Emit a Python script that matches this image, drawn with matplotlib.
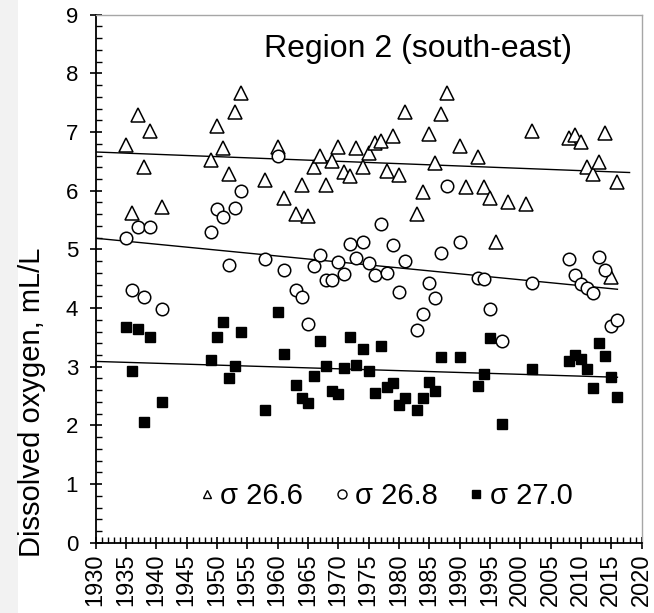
import matplotlib
matplotlib.use("Agg")
import matplotlib.pyplot as plt
from matplotlib.lines import Line2D
from matplotlib.ticker import MultipleLocator
import matplotlib.patches as mpatches

plt.rcParams['font.family'] = ['Liberation Sans', 'DejaVu Sans']

# sigma 26.6 (open triangles)
years_266 = [1935, 1936, 1937, 1938, 1939, 1941, 1949, 1950, 1951, 1952, 1953, 1954,
             1958, 1960, 1961, 1963, 1964, 1965, 1966, 1967, 1968, 1969, 1970, 1971,
             1972, 1973, 1974, 1975, 1976, 1977, 1978, 1979, 1980, 1981, 1983, 1984,
             1985, 1986, 1987, 1988, 1990, 1991, 1993, 1994, 1995, 1996, 1998, 2001,
             2002, 2008, 2009, 2010, 2011, 2012, 2013, 2014, 2015, 2016]
do_266 = [6.78, 5.62, 7.29, 6.40, 7.02, 5.73, 6.53, 7.10, 6.72, 6.28, 7.35, 7.67,
          6.18, 6.74, 5.87, 5.60, 6.10, 5.57, 6.40, 6.59, 6.09, 6.51, 6.74, 6.32,
          6.25, 6.73, 6.41, 6.64, 6.81, 6.85, 6.34, 6.94, 6.27, 7.35, 5.60, 5.97,
          6.97, 6.48, 7.30, 7.67, 6.77, 6.06, 6.58, 6.06, 5.87, 5.12, 5.80, 5.78,
          7.02, 6.89, 6.95, 6.83, 6.41, 6.28, 6.49, 6.98, 4.53, 6.14]

# sigma 26.8 (open circles)
years_268 = [1935, 1936, 1937, 1938, 1939, 1941, 1949, 1950, 1951, 1952, 1953, 1954,
             1958, 1960, 1961, 1963, 1964, 1965, 1966, 1967, 1968, 1969, 1970, 1971,
             1972, 1973, 1974, 1975, 1976, 1977, 1978, 1979, 1980, 1981, 1983, 1984,
             1985, 1986, 1987, 1988, 1990, 1993, 1994, 1995, 1997, 2002, 2008, 2009,
             2010, 2011, 2012, 2013, 2014, 2015, 2016]
do_268 = [5.20, 4.31, 5.38, 4.18, 5.38, 3.99, 5.29, 5.68, 5.55, 4.73, 5.70, 5.99,
          4.83, 6.60, 4.65, 4.31, 4.19, 3.72, 4.72, 4.90, 4.48, 4.48, 4.79, 4.58,
          5.09, 4.86, 5.12, 4.77, 4.56, 5.44, 4.60, 5.07, 4.28, 4.80, 3.63, 3.90,
          4.42, 4.17, 4.94, 6.08, 5.13, 4.52, 4.49, 3.98, 3.44, 4.43, 4.84, 4.56,
          4.41, 4.34, 4.26, 4.87, 4.65, 3.70, 3.80]

# sigma 27.0 (filled squares)
years_270 = [1935, 1936, 1937, 1938, 1939, 1941, 1949, 1950, 1951, 1952, 1953, 1954,
             1958, 1960, 1961, 1963, 1964, 1965, 1966, 1967, 1968, 1969, 1970, 1971,
             1972, 1973, 1974, 1975, 1976, 1977, 1978, 1979, 1980, 1981, 1983, 1984,
             1985, 1986, 1987, 1990, 1993, 1994, 1995, 1997, 2002, 2008, 2009, 2010,
             2011, 2012, 2013, 2014, 2015, 2016]
do_270 = [3.68, 2.93, 3.65, 2.06, 3.51, 2.39, 3.11, 3.51, 3.77, 2.81, 3.01, 3.59,
          2.26, 3.94, 3.22, 2.68, 2.47, 2.38, 2.84, 3.44, 3.01, 2.59, 2.53, 2.97,
          3.51, 3.03, 3.30, 2.93, 2.55, 3.35, 2.66, 2.73, 2.34, 2.46, 2.26, 2.46,
          2.74, 2.58, 3.17, 3.16, 2.67, 2.87, 3.49, 2.03, 2.96, 3.09, 3.20, 3.13,
          2.96, 2.63, 3.41, 3.18, 2.82, 2.48]

# linear trend lines (end points)
trend_years_266 = [1930, 2018]
trend_266 = [6.66, 6.31]
trend_years = [1930, 2016]
trend_268 = [5.19, 4.32]
trend_270 = [3.09, 2.82]

legend_labels = ["σ 26.6", "σ 26.8", "σ 27.0"]

fig = plt.figure(figsize=(6.54, 6.13), dpi=100, facecolor="#f2f2f2")
fig.patches.append(mpatches.Rectangle((18 / 654, 0), 1, 1, transform=fig.transFigure,
                                      facecolor="white", edgecolor="none", zorder=-10))
ax = fig.add_axes([95.5 / 654, 1 - 542.7 / 613, (641.7 - 95.5) / 654, (542.7 - 14.7) / 613])
ax.set_facecolor("white")

ax.plot(trend_years_266, trend_266, color="black", lw=1.0, zorder=2)
ax.plot(trend_years, trend_268, color="black", lw=1.0, zorder=2)
ax.plot(trend_years, trend_270, color="black", lw=1.0, zorder=2)

ax.plot(years_266, do_266, linestyle="none", marker="^", markersize=9.5,
        markerfacecolor="white", markeredgecolor="black", markeredgewidth=1.1, zorder=3)
ax.plot(years_268, do_268, linestyle="none", marker="o", markersize=9,
        markerfacecolor="white", markeredgecolor="black", markeredgewidth=1.1, zorder=3)
ax.plot(years_270, do_270, linestyle="none", marker="s", markersize=6.5,
        markerfacecolor="black", markeredgecolor="black", zorder=3)

ax.set_xlim(1930, 2020)
ax.set_ylim(0, 9)
ax.xaxis.set_major_locator(MultipleLocator(5))
ax.xaxis.set_minor_locator(MultipleLocator(1))
ax.yaxis.set_major_locator(MultipleLocator(1))
ax.yaxis.set_minor_locator(MultipleLocator(0.2))
ax.tick_params(axis="both", which="major", direction="inout", length=9, width=1.2,
               labelsize=16, color="black")
ax.tick_params(axis="both", which="minor", direction="in", length=4.5, width=1.0)
ax.tick_params(axis="x", labelrotation=90, pad=3, labelsize=17)
ax.tick_params(axis="y", pad=8)

for side in ["left", "bottom"]:
    ax.spines[side].set_color("black")
    ax.spines[side].set_linewidth(1.3)
for side in ["top", "right"]:
    ax.spines[side].set_color("#a6a6a6")
    ax.spines[side].set_linewidth(1.0)

ax.text(-0.117, 0.265, "Dissolved oxygen, mL/L", transform=ax.transAxes, fontsize=21,
        rotation=90, ha="center", va="center")
ax.text(0.59, 0.935, "Region 2 (south-east)", transform=ax.transAxes, fontsize=23,
        ha="center", va="center")

handles = [
    Line2D([], [], linestyle="none", marker="^", markersize=6, markerfacecolor="white",
           markeredgecolor="black", markeredgewidth=1.0),
    Line2D([], [], linestyle="none", marker="o", markersize=6.5, markerfacecolor="white",
           markeredgecolor="black", markeredgewidth=1.0),
    Line2D([], [], linestyle="none", marker="s", markersize=6, markerfacecolor="black",
           markeredgecolor="black"),
]
ax.legend(handles, legend_labels, loc="center", bbox_to_anchor=(0.533, 0.088), ncol=3,
          frameon=False, fontsize=21, handlelength=0.4, handletextpad=0.25,
          columnspacing=1.13, borderpad=0)

fig.savefig("out.png", dpi=100, facecolor=fig.get_facecolor())
